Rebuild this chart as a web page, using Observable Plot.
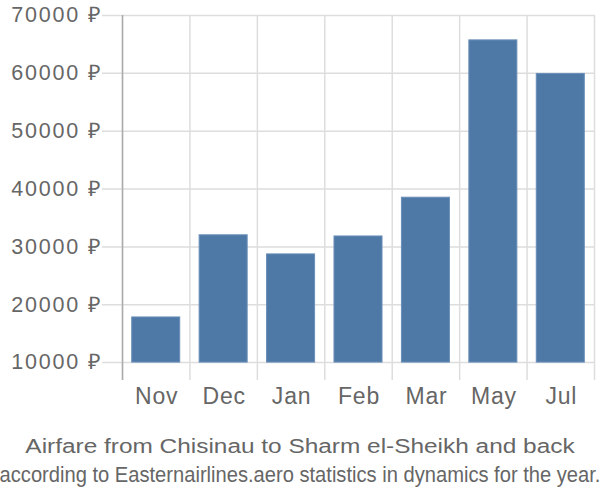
<!DOCTYPE html>
<html>
<head>
<meta charset="utf-8">
<script src="https://cdn.jsdelivr.net/npm/d3@7"></script>
<script src="https://cdn.jsdelivr.net/npm/@observablehq/plot@0.6"></script>
<style>
  body { margin: 0; background: #fff; overflow: hidden; }
  #chart { width: 600px; }
  .cap { font-family: "Liberation Sans", Arial, sans-serif; color: #666; text-align: center; white-space: nowrap; }
  .t1 { font-size: 20px; margin-top: 14px; line-height: 24px; transform: scaleX(1.22); transform-origin: center; }
  .t2 { font-size: 22px; line-height: 26px; margin-top: 4px; width: 800px; margin-left: -100px; transform: scaleX(0.915); transform-origin: center; }
  .ylab { letter-spacing: 1.8px; }
  .xlab { letter-spacing: 0.8px; }
</style>
</head>
<body>
<div id="chart"></div>
<script>
const months = ["Nov", "Dec", "Jan", "Feb", "Mar", "May", "Jul"];
const prices = [17800, 32000, 28700, 31800, 38500, 65700, 59900];
const yTicks = [10000, 20000, 30000, 40000, 50000, 60000, 70000];
const baseline = 10000;

const data = months.map((m, i) => ({ month: m, i, price: prices[i] }));
const bounds = d3.range(months.length + 1);

const plot = Plot.plot({
  width: 600,
  height: 420,
  marginLeft: 122,
  marginRight: 6,
  marginTop: 15,
  marginBottom: 40,
  style: { fontFamily: "Liberation Sans, Arial, sans-serif", fontSize: "20px", color: "#666", background: "#fff" },
  x: { domain: [0, months.length], axis: null },
  y: { domain: [6900, 70000], axis: null },
  marks: [
    Plot.ruleX(bounds, { x: d => d, stroke: "#ddd", strokeWidth: 1.5 }),
    Plot.ruleY(yTicks, { y: d => d, stroke: "#ddd", strokeWidth: 1.5, insetLeft: -20 }),
    Plot.rectY(data, { x1: d => d.i, x2: d => d.i + 1, y1: baseline, y2: "price", fill: "#4e79a7", stroke: "#6a8fb8", strokeWidth: 1, insetLeft: 9.7, insetRight: 9.7 }),
    Plot.ruleX([0], { x: d => d, stroke: "#aaa", strokeWidth: 1.5 }),
    Plot.text(yTicks, { x: 0, y: d => d, text: d => d + " ₽", textAnchor: "end", dx: -20, fill: "#666", fontSize: 21.5, className: "ylab" }),
    Plot.text(data, { x: d => d.i + 0.5, y: 6900, text: "month", dy: 16, dx: 0.5, lineAnchor: "middle", fill: "#666", fontSize: 23, className: "xlab" })
  ]
});
document.getElementById("chart").appendChild(plot);
const c1 = document.createElement("div");
c1.className = "cap t1";
c1.textContent = "Airfare from Chisinau to Sharm el-Sheikh and back";
const c2 = document.createElement("div");
c2.className = "cap t2";
c2.textContent = "according to Easternairlines.aero statistics in dynamics for the year.";
document.getElementById("chart").appendChild(c1);
document.getElementById("chart").appendChild(c2);
</script>
</body>
</html>
